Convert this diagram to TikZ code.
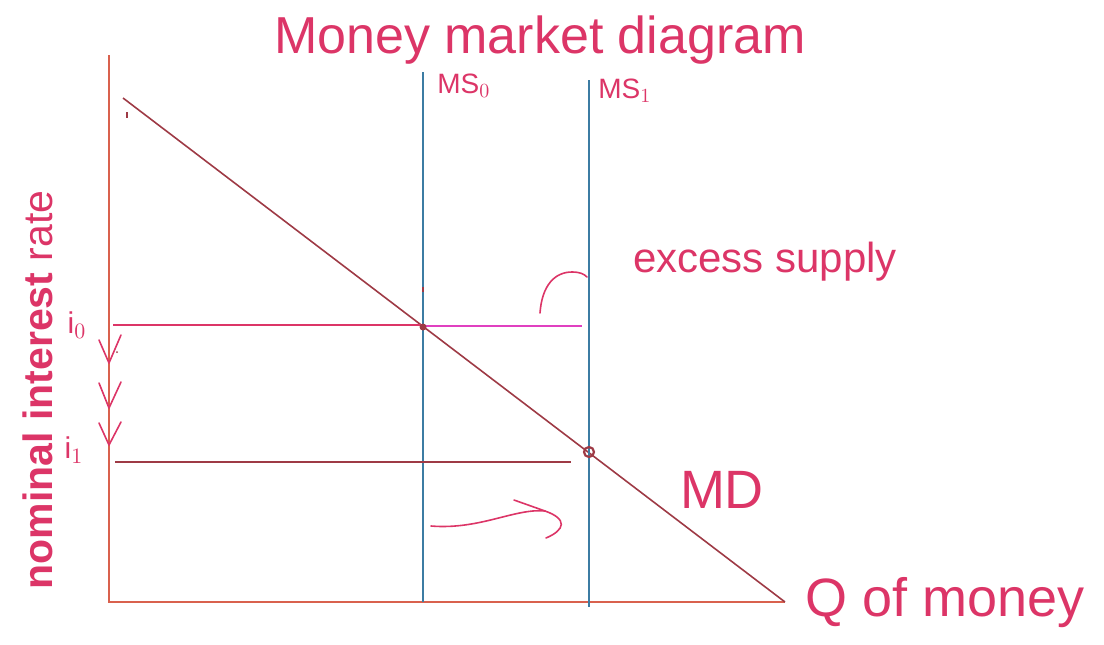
\documentclass[tikz,border=0pt]{standalone}
\usepackage{fontspec}
\setmainfont{Liberation Sans}
\usetikzlibrary{calc}
\definecolor{mmAxis}{HTML}{D9614E}
\definecolor{mmDemand}{HTML}{9E3A45}
\definecolor{mmSupply}{HTML}{3C7CA3}
\definecolor{mmInk}{HTML}{DC3567}
\definecolor{mmExcess}{HTML}{E040C0}
\begin{document}
\begin{tikzpicture}[
    x=0.5pt, y=-0.5pt,
    axisln/.style   = {draw=mmAxis, line width=1.1pt},
    demandln/.style = {draw=mmDemand, line width=0.8pt},
    supplyln/.style = {draw=mmSupply, line width=1pt},
    inkln/.style    = {draw=mmInk, line width=0.8pt, line cap=round, line join=round},
    excessln/.style = {draw=mmExcess, line width=0.7pt},
    ink/.style      = {text=mmInk, inner sep=0pt},
    bigink/.style   = {ink, font=\fontsize{27}{30}\selectfont},
    midink/.style   = {ink, font=\fontsize{21}{24}\selectfont},
    smallink/.style = {ink, font=\fontsize{14}{16}\selectfont, anchor=west}
  ]
  \useasboundingbox (0,0) rectangle (1104,644);

  %% axes
  \coordinate (origin) at (109,602);
  \coordinate (ytop)   at (109,55);
  \coordinate (xend)   at (785,602);
  \draw[axisln] (ytop) -- (origin) -- (xend);

  %% money demand
  \coordinate (mdtop) at (123,98);
  \draw[demandln] (mdtop) -- (xend);
  \draw[demandln] (127,112) -- (127,118);

  %% money supply curves
  \coordinate (mszTop) at (423,72);
  \coordinate (mszBot) at (423,602);
  \coordinate (msoTop) at (589,80);
  \coordinate (msoBot) at (589,607);
  \draw[supplyln] (mszTop) -- (mszBot);
  \draw[supplyln] (msoTop) -- (msoBot);
  \draw[demandln] (423,287) -- (423,292);

  %% interest rate levels
  \coordinate (izL) at (113,325);
  \coordinate (izR) at (421,325);
  \coordinate (exL) at (426,326);
  \coordinate (exR) at (582,326);
  \coordinate (ioL) at (115,462);
  \coordinate (ioR) at (571,462);
  \draw[inkln, line cap=butt] (izL) -- (izR);
  \draw[excessln] (exL) -- (exR);
  \draw[demandln, line width=1.1pt] (ioL) -- (ioR);

  %% equilibria
  \fill[mmDemand] (423,327) circle (3.5);
  \draw[mmDemand, line width=1.1pt] (589,452) circle (5);

  %% falling rate marks
  \foreach \ya/\yb/\yc in {340/363/335, 383/408/382, 423/445/422}{
    \draw[inkln] (99,\ya) -- (109,\yb) -- (121,\yc);
  }
  \fill[mmDemand] (117,352) circle (1);

  %% shift of supply
  \coordinate (shiftA) at (431,526);
  \coordinate (shiftB) at (545,511);
  \draw[inkln] (shiftA) .. controls (480,530) and (515,508) .. (shiftB);
  \draw[inkln] (514,500) -- (shiftB) .. controls (568,519) and (565,530) .. (546,538);

  %% excess supply pointer
  \coordinate (exFoot) at (540,313);
  \coordinate (exTip)  at (587,277);
  \draw[inkln] (exFoot) .. controls (542,285) and (555,272) .. (572,272) .. controls (580,272) and (584,274) .. (exTip);

  %% labels
  \node[bigink, font=\fontsize{26}{30}\selectfont] (title) at (540,40) {Money market diagram};
  \node[smallink] (lblMSzero) at (437,86) {MS$_0$};
  \node[smallink] (lblMSone) at (598,91) {MS$_1$};
  \node[midink] (lblExcess) at (765,262) {excess supply};
  \node[bigink] (lblMD) at (722,490) {MD};
  \node[bigink] (lblQ) at (945,603) {Q of money};
  \node[ink, font=\fontsize{20.5}{24}\selectfont, rotate=90] (lblRate) at (38,390)
    {\textbf{nominal interest} rate};
  \node[ink, font=\fontsize{15}{17}\selectfont] (lblIzero) at (77,325) {i$_0$};
  \node[ink, font=\fontsize{15}{17}\selectfont] (lblIone) at (74,450) {i$_1$};
\end{tikzpicture}
\end{document}
